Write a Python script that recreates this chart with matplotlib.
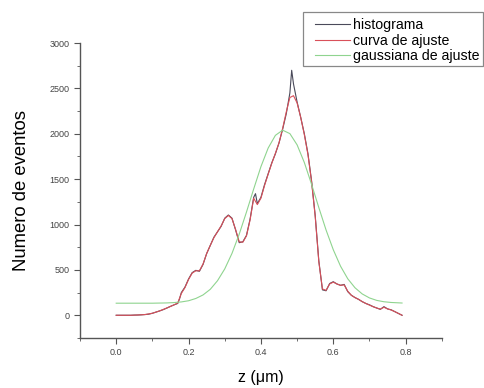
import matplotlib.pyplot as plt
from matplotlib.patches import Rectangle
from matplotlib.ticker import MultipleLocator

plt.rcParams['font.family'] = ['Liberation Sans', 'DejaVu Sans']

# histograma
hist_x = [0.00, 0.01, 0.02, 0.03, 0.04, 0.05, 0.06, 0.07, 0.08, 0.09,
          0.10, 0.11, 0.12, 0.13, 0.14, 0.15, 0.16, 0.17, 0.175, 0.18,
          0.19, 0.20, 0.21, 0.22, 0.23, 0.24, 0.25, 0.26, 0.27, 0.28,
          0.29, 0.30, 0.31, 0.32, 0.33, 0.34, 0.35, 0.36, 0.37, 0.38,
          0.385, 0.39, 0.40, 0.41, 0.42, 0.43, 0.44, 0.45, 0.46, 0.47,
          0.48, 0.485, 0.49, 0.50, 0.51, 0.52, 0.53, 0.54, 0.55, 0.56,
          0.57, 0.58, 0.59, 0.60, 0.61, 0.62, 0.63, 0.64, 0.65, 0.66,
          0.67, 0.68, 0.69, 0.70, 0.71, 0.72, 0.73, 0.74, 0.75, 0.76,
          0.77, 0.78, 0.79]
hist_y = [0, 0, 0, 0, 0, 2, 3, 5, 8, 12,
          22, 35, 48, 62, 80, 98, 115, 130, 180, 250,
          310, 400, 470, 495, 485, 560, 680, 770, 860, 920,
          980, 1070, 1105, 1070, 940, 800, 810, 880, 1060, 1300,
          1340, 1230, 1300, 1440, 1560, 1680, 1780, 1900, 2050, 2220,
          2450, 2700, 2550, 2350, 2180, 2000, 1780, 1480, 1100, 600,
          280, 270, 350, 370, 345, 330, 340, 260, 220, 195,
          175, 150, 130, 115, 95, 80, 65, 95, 70, 60,
          40, 20, 0]

# curva de ajuste
fit_x = [0.00, 0.02, 0.04, 0.06, 0.08, 0.10, 0.12, 0.14, 0.16, 0.17,
         0.18, 0.19, 0.20, 0.21, 0.22, 0.23, 0.24, 0.25, 0.26, 0.27,
         0.28, 0.29, 0.30, 0.31, 0.32, 0.33, 0.34, 0.35, 0.36, 0.37,
         0.38, 0.39, 0.40, 0.41, 0.42, 0.43, 0.44, 0.45, 0.46, 0.47,
         0.48, 0.49, 0.50, 0.51, 0.52, 0.53, 0.54, 0.55, 0.56, 0.57,
         0.58, 0.59, 0.60, 0.61, 0.62, 0.63, 0.64, 0.65, 0.66, 0.67,
         0.68, 0.69, 0.70, 0.71, 0.72, 0.73, 0.74, 0.75, 0.76, 0.77,
         0.78, 0.79]
fit_y = [0, 0, 0, 3, 8, 22, 48, 80, 115, 135,
         240, 305, 395, 465, 490, 490, 565, 680, 770, 855,
         920, 985, 1065, 1100, 1065, 945, 810, 805, 875, 1050,
         1290, 1220, 1290, 1430, 1555, 1675, 1785, 1900, 2060, 2240,
         2400, 2420, 2340, 2180, 1990, 1770, 1470, 1090, 590, 290,
         275, 345, 365, 345, 330, 335, 265, 220, 195, 175,
         150, 130, 112, 95, 80, 68, 88, 70, 58, 40,
         20, 0]

# gaussiana de ajuste
gauss_x = [0.00, 0.05, 0.10, 0.14, 0.16, 0.18, 0.20, 0.22, 0.24, 0.26,
           0.28, 0.30, 0.32, 0.34, 0.36, 0.38, 0.40, 0.42, 0.44, 0.46,
           0.48, 0.50, 0.52, 0.54, 0.56, 0.58, 0.60, 0.62, 0.64, 0.66,
           0.68, 0.70, 0.72, 0.74, 0.76, 0.79]
gauss_y = [133, 133, 133, 136, 140, 147, 160, 185, 224, 286,
           381, 511, 682, 894, 1137, 1392, 1638, 1843, 1983, 2040,
           2002, 1878, 1683, 1443, 1187, 940, 722, 541, 402, 303,
           235, 191, 164, 149, 141, 135]

fig = plt.figure(figsize=(4.85, 3.88), dpi=100)
ax = fig.add_axes([0.165, 0.129, 0.746, 0.760])

ax.plot(hist_x, hist_y, color='#4a4a5a', lw=0.8, label='histograma')
ax.plot(fit_x, fit_y, color='#d9505a', lw=0.8, label='curva de ajuste')
ax.plot(gauss_x, gauss_y, color='#8fd48f', lw=0.8, label='gaussiana de ajuste')

ax.set_xlim(-0.1, 0.9)
ax.set_ylim(-250, 3000)
ax.xaxis.set_minor_locator(MultipleLocator(0.1))
ax.yaxis.set_minor_locator(MultipleLocator(250))
ax.set_xticks([0.0, 0.2, 0.4, 0.6, 0.8])
ax.set_xticklabels(['0.0', '0.2', '0.4', '0.6', '0.8'])
ax.set_yticks([0, 500, 1000, 1500, 2000, 2500, 3000])

for s in ['top', 'right']:
    ax.spines[s].set_visible(False)
for s in ['left', 'bottom']:
    ax.spines[s].set_color('#555555')
    ax.spines[s].set_linewidth(1.0)

ax.tick_params(which='major', direction='out', length=4, width=0.8,
               colors='#555555', labelsize=6.5, labelcolor='#444444')
ax.tick_params(which='minor', direction='out', length=2, width=0.6,
               colors='#555555')

ax.set_xlabel('z (\u03bcm)', fontsize=11.5, labelpad=9)
ax.set_ylabel('Numero de eventos', fontsize=13.3, labelpad=14)

# legend, with its own frame box
fig.legend(loc='upper left', bbox_to_anchor=(315 / 485, 1 - 18 / 388),
           frameon=False, fontsize=10.2, handlelength=2.5,
           labelspacing=0.12, borderpad=0.0, handletextpad=0.2,
           borderaxespad=0.0)
fig.patches.append(Rectangle((303 / 485, 1 - 66 / 388), 180 / 485, 54 / 388,
                             transform=fig.transFigure, fill=False,
                             edgecolor='#888888', linewidth=0.9))

fig.savefig('out.png', dpi=100)
